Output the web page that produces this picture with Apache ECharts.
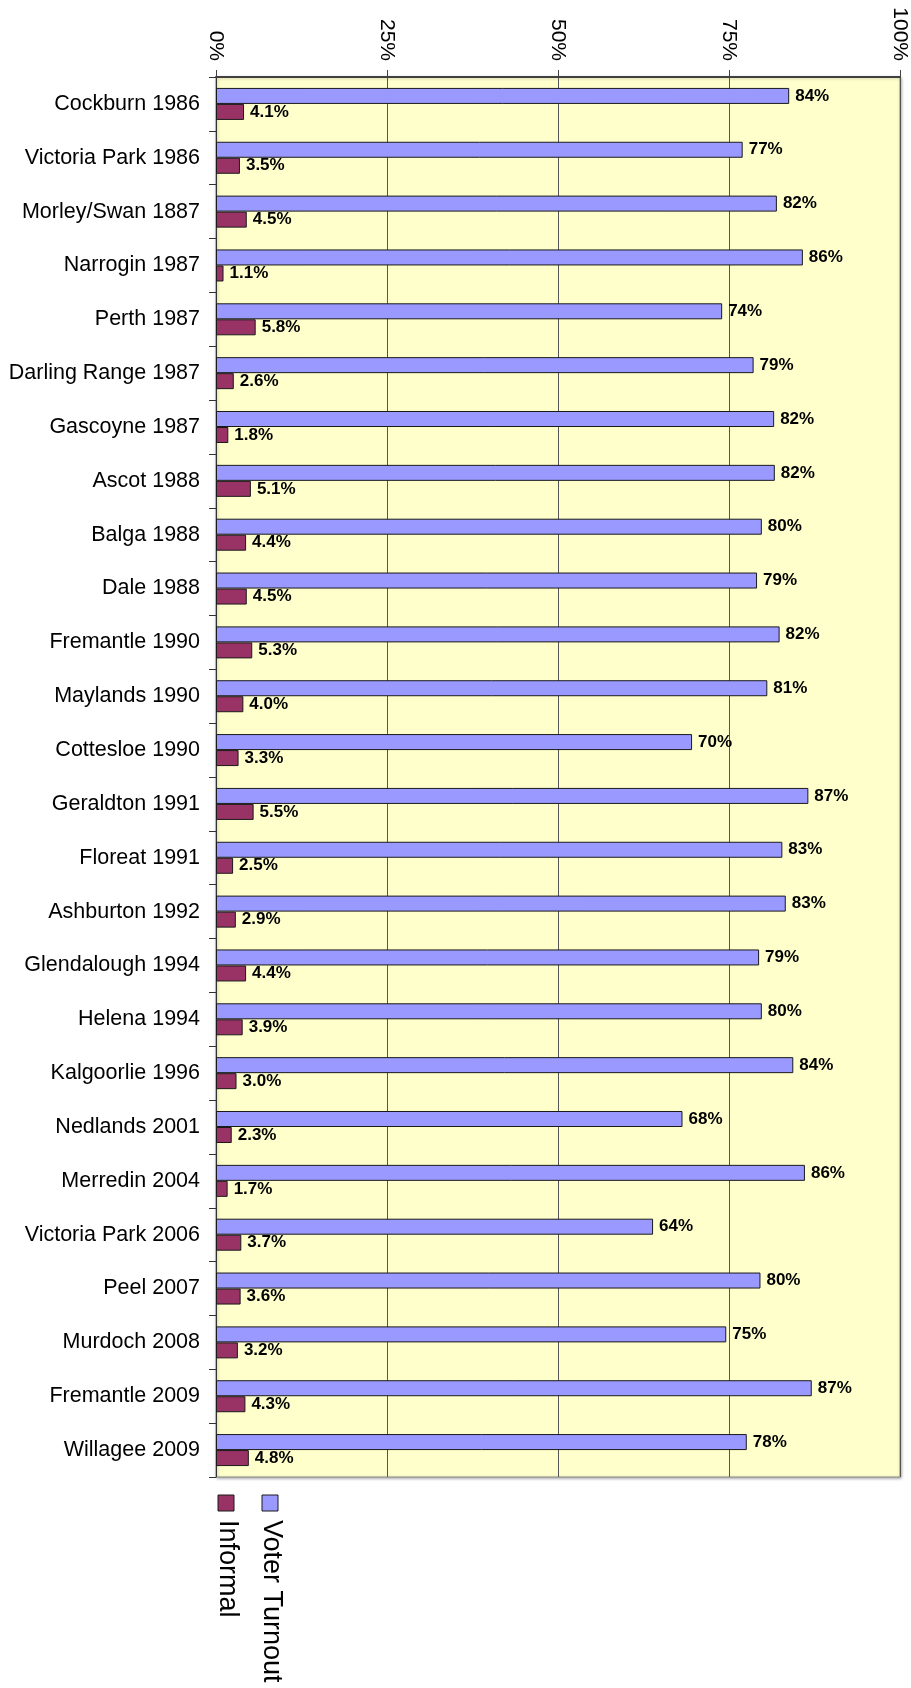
<!DOCTYPE html>
<html>
<head>
<meta charset="utf-8">
<script src="https://cdn.jsdelivr.net/npm/echarts@6/dist/echarts.min.js"></script>
<style>
html,body{margin:0;padding:0;background:#fff;}
#chart{width:911px;height:1688px;}
</style>
</head>
<body>
<div id="chart"></div>
<script>
const categories = [
  "Cockburn 1986","Victoria Park 1986","Morley/Swan 1887","Narrogin 1987","Perth 1987",
  "Darling Range 1987","Gascoyne 1987","Ascot 1988","Balga 1988","Dale 1988",
  "Fremantle 1990","Maylands 1990","Cottesloe 1990","Geraldton 1991","Floreat 1991",
  "Ashburton 1992","Glendalough 1994","Helena 1994","Kalgoorlie 1996","Nedlands 2001",
  "Merredin 2004","Victoria Park 2006","Peel 2007","Murdoch 2008","Fremantle 2009","Willagee 2009"
];
const voterTurnout = [
  83.8, 77.0, 82.0, 85.8, 74.0,
  78.6, 81.6, 81.7, 79.8, 79.1,
  82.4, 80.6, 69.6, 86.6, 82.8,
  83.3, 79.4, 79.8, 84.4, 68.2,
  86.1, 63.9, 79.6, 74.6, 87.1, 77.6
];
const informal = [
  4.1, 3.5, 4.5, 1.1, 5.8,
  2.6, 1.8, 5.1, 4.4, 4.5,
  5.3, 4.0, 3.3, 5.5, 2.5,
  2.9, 4.4, 3.9, 3.0, 2.3,
  1.7, 3.7, 3.6, 3.2, 4.3, 4.8
];
const xTicks = [0, 25, 50, 75, 100];
const seriesNames = ["Voter Turnout", "Informal"];

const FONT = "'Liberation Sans', Arial, sans-serif";
const chart = echarts.init(document.getElementById('chart'), null, {renderer: 'canvas'});

const option = {
  animation: false,
  backgroundColor: '#ffffff',
  grid: {
    left: 216, right: 11, top: 77, bottom: 211,
    show: true,
    backgroundColor: '#FFFFCC',
    borderColor: '#8c8c8c',
    borderWidth: 1,
    shadowColor: 'rgba(0,0,0,0.35)',
    shadowBlur: 3,
    shadowOffsetX: 1,
    shadowOffsetY: 1,
    containLabel: false
  },
  xAxis: {
    type: 'value',
    position: 'top',
    min: xTicks[0],
    max: xTicks[xTicks.length - 1],
    interval: 25,
    axisLine: {show: true, lineStyle: {color: '#404040', width: 2}},
    axisTick: {show: true, length: 7, lineStyle: {color: '#404040', width: 1}},
    splitLine: {show: true, lineStyle: {color: '#555555', width: 1}},
    axisLabel: {
      rotate: 90,
      margin: 16,
      fontFamily: FONT,
      fontSize: 21,
      color: '#000',
      formatter: v => v + '%'
    }
  },
  yAxis: {
    type: 'category',
    data: categories,
    inverse: true,
    axisLine: {show: true, lineStyle: {color: '#333', width: 1}},
    axisTick: {show: true, length: 7, lineStyle: {color: '#333', width: 1}},
    splitLine: {show: false},
    axisLabel: {
      margin: 16,
      fontFamily: FONT,
      fontSize: 21.5,
      color: '#000'
    }
  },
  series: [
    {
      name: seriesNames[0],
      type: 'bar',
      data: voterTurnout,
      barWidth: 16,
      barGap: '0%',
      itemStyle: {color: '#9999FF', borderColor: '#1a1a1a', borderWidth: 1},
      label: {
        show: true, position: 'right', distance: 6,
        fontFamily: FONT, fontSize: 17, fontWeight: 'bold', color: '#000',
        formatter: p => Math.round(p.value) + '%'
      }
    },
    {
      name: seriesNames[1],
      type: 'bar',
      data: informal,
      barWidth: 16,
      barGap: '0%',
      itemStyle: {color: '#993366', borderColor: '#1a1a1a', borderWidth: 1},
      label: {
        show: true, position: 'right', distance: 6,
        fontFamily: FONT, fontSize: 17, fontWeight: 'bold', color: '#000',
        formatter: p => p.value.toFixed(1) + '%'
      }
    }
  ],
  graphic: [
    {type: 'rect', shape: {x: 218, y: 1495, width: 16, height: 16},
     style: {fill: '#993366', stroke: '#1a1a1a', lineWidth: 1}},
    {type: 'rect', shape: {x: 262, y: 1495, width: 16, height: 16},
     style: {fill: '#9999FF', stroke: '#1a1a1a', lineWidth: 1}},
    {type: 'text', x: 227, y: 1520, rotation: -Math.PI / 2,
     style: {text: seriesNames[1], fontFamily: FONT, fontSize: 27, fill: '#000',
             textAlign: 'left', textVerticalAlign: 'middle'}},
    {type: 'text', x: 271, y: 1520, rotation: -Math.PI / 2,
     style: {text: seriesNames[0], fontFamily: FONT, fontSize: 27, fill: '#000',
             textAlign: 'left', textVerticalAlign: 'middle'}}
  ]
};
chart.setOption(option);
</script>
</body>
</html>
